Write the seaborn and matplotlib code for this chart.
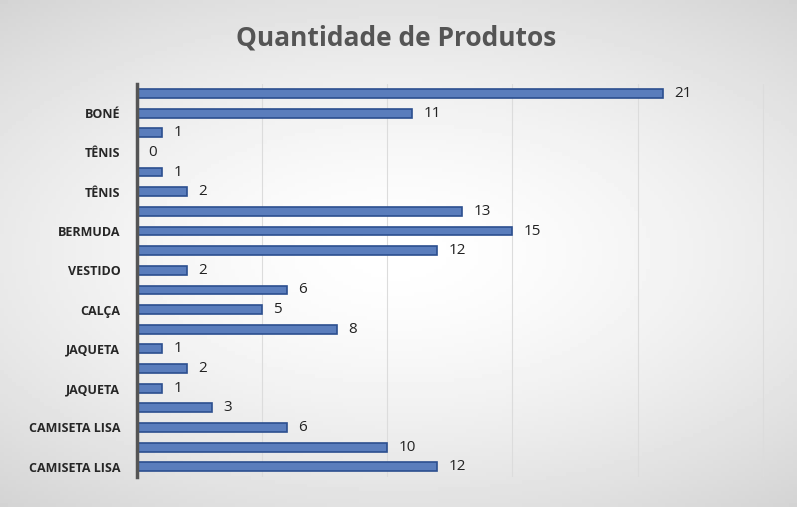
import matplotlib
matplotlib.use("Agg")
import matplotlib.pyplot as plt
import seaborn as sns
import numpy as np
import pandas as pd

positions = [str(i) for i in range(20)]
labels = ["", "BONÉ", "", "TÊNIS", "", "TÊNIS", "", "BERMUDA", "", "VESTIDO",
          "", "CALÇA", "", "JAQUETA", "", "JAQUETA", "", "CAMISETA LISA", "", "CAMISETA LISA"]
values = [21, 11, 1, 0, 1, 2, 13, 15, 12, 2, 6, 5, 8, 1, 2, 1, 3, 6, 10, 12]

df = pd.DataFrame({"pos": positions, "val": values})

sns.set_theme(style="white")
plt.rcParams['font.family'] = ['Open Sans', 'DejaVu Sans']
fig = plt.figure(figsize=(7.97, 5.07), dpi=100)
bg = fig.add_axes([0, 0, 1, 1], zorder=-10)
xx, yy = np.meshgrid(np.linspace(-1, 1, 200), np.linspace(-1, 1, 130))
r = np.sqrt((xx * 0.9) ** 2 + (yy * 1.1) ** 2)
bg.imshow(1 - 0.1 * r ** 1.5, cmap="gray", vmin=0, vmax=1, aspect="auto", extent=[0, 1, 0, 1])
bg.axis("off")

ax = fig.add_axes([0.172, 0.06, 0.81, 0.775])
ax.set_facecolor("none")
sns.barplot(data=df, x="val", y="pos", order=positions, color="#4a78cc",
            edgecolor="#2c4f8f", linewidth=1.2, width=0.45, ax=ax)
ax.set_xlim(0, 25.8)
for xv in [0, 5, 10, 15, 20, 25]:
    ax.axvline(xv, color="#dcdcdc", lw=0.8, zorder=0)
for i, v in enumerate(values):
    ax.text(v + 0.45, i, str(v), va="center", ha="left", fontsize=11, color="#222222")
ax.set_yticks(range(20))
ax.set_yticklabels(labels, fontsize=9, fontweight="bold")
ax.tick_params(axis="y", length=0, pad=12)
ax.set_xticks([])
ax.set_xlabel("")
ax.set_ylabel("")
for s in ["top", "right", "bottom"]:
    ax.spines[s].set_visible(False)
ax.spines["left"].set_color("#555555")
ax.spines["left"].set_linewidth(2.5)
fig.text(0.497, 0.925, "Quantidade de Produtos", ha="center", va="center",
         fontsize=19, fontweight="bold", color="#555555")
fig.savefig("out.png", dpi=100)
